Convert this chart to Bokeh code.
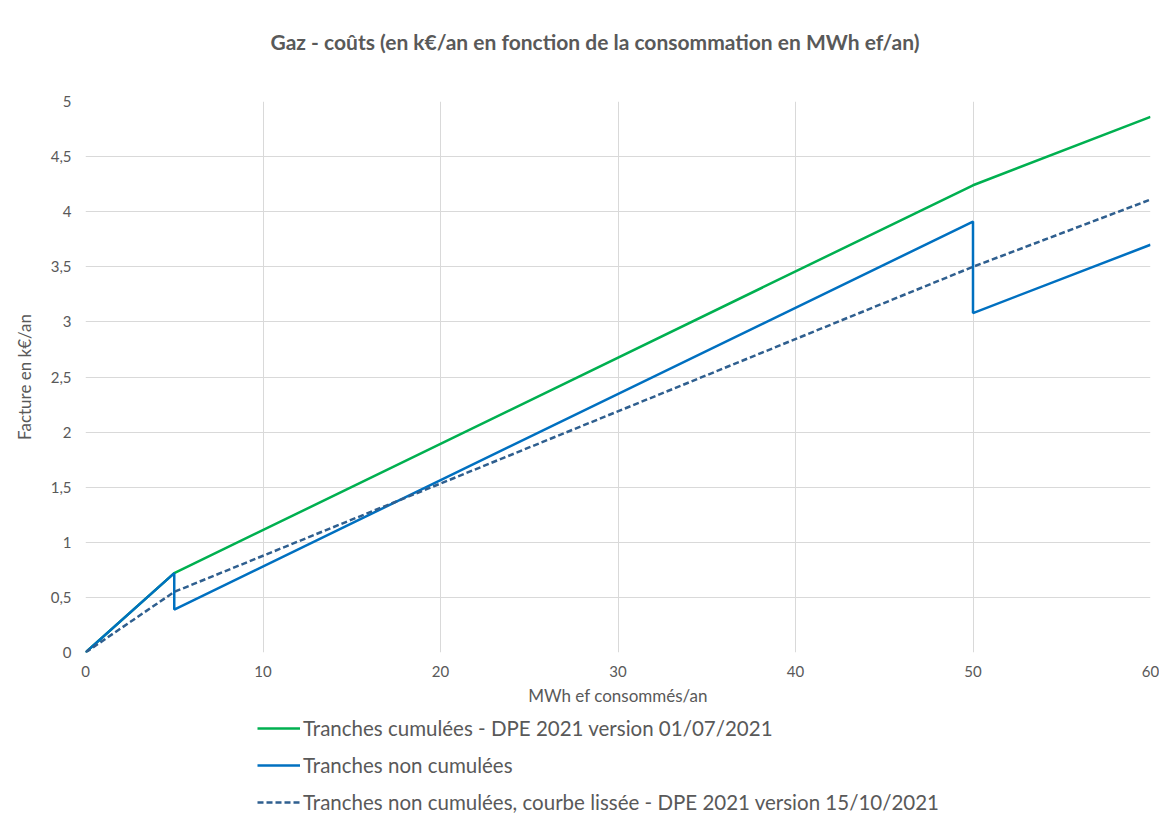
from bokeh.plotting import figure
from bokeh.models import Range1d, FixedTicker, CustomJSTickFormatter, Legend, LegendItem
from bokeh.layouts import column
from bokeh.embed import file_html
from bokeh.resources import INLINE

# Data
x_cum = [0, 5, 50, 60]
y_cum = [0, 0.72, 4.24, 4.86]
x_nc = [0, 5, 5, 50, 50, 60]
y_nc = [0, 0.72, 0.39, 3.91, 3.08, 3.70]
x_ls = [0, 5, 50, 60]
y_ls = [0, 0.55, 3.50, 4.11]
x_ticks = [0, 10, 20, 30, 40, 50, 60]
y_ticks = [0, 0.5, 1, 1.5, 2, 2.5, 3, 3.5, 4, 4.5, 5]
labels = ["Tranches cumulées - DPE 2021 version 01/07/2021",
          "Tranches non cumulées",
          "Tranches non cumulées, courbe lissée - DPE 2021 version 15/10/2021"]
title = "Gaz - coûts (en k€/an en fonction de la consommation en MWh ef/an)"

FONT = "Lato"
GREY = "#595959"
GRID = "#d9d9d9"
COLORS = ["#00b050", "#0070c0", "#2f5f8f"]
DASHES = ["solid", "solid", "6 3"]
SERIES = [(x_cum, y_cum), (x_nc, y_nc), (x_ls, y_ls)]
W = 1159

# Title strip
t = figure(width=W, height=85, output_backend="svg", toolbar_location=None,
           x_range=Range1d(-200, -100), y_range=Range1d(-200, -100),
           x_axis_location=None, y_axis_location=None, min_border=0)
t.outline_line_color = None
t.grid.visible = False
t.title.text = title
t.title.align = "left"
t.title.offset = 185
t.title.text_font = FONT
t.title.text_font_size = "21px"
t.title.text_font_style = "bold"
t.title.text_color = GREY
t.title.standoff = 52

# Main chart
p = figure(width=W, height=625, output_backend="svg", toolbar_location=None,
           x_range=Range1d(0, 60), y_range=Range1d(0, 5),
           min_border_left=85, min_border_right=9, min_border_top=16, min_border_bottom=58)
p.outline_line_color = None

p.xaxis.ticker = FixedTicker(ticks=x_ticks)
p.yaxis.ticker = FixedTicker(ticks=y_ticks)
p.yaxis.formatter = CustomJSTickFormatter(code="return tick.toString().replace('.', ',');")
for ax in (p.xaxis, p.yaxis):
    ax.axis_line_color = None
    ax.major_tick_line_color = None
    ax.minor_tick_line_color = None
    ax.major_label_text_font = FONT
    ax.major_label_text_font_size = "15px"
    ax.major_label_text_color = GREY
    ax.axis_label_text_font = FONT
    ax.axis_label_text_font_size = "17px"
    ax.axis_label_text_color = GREY
    ax.axis_label_text_font_style = "normal"
p.xaxis.axis_label = "MWh ef consommés/an"
p.yaxis.axis_label = "Facture en k€/an"
p.xaxis.major_label_standoff = 7
p.yaxis.major_label_standoff = 8
p.xaxis.axis_label_standoff = 5
p.yaxis.axis_label_standoff = 13

p.xgrid.ticker = FixedTicker(ticks=x_ticks)
p.ygrid.ticker = FixedTicker(ticks=y_ticks)
p.grid.grid_line_color = GRID
p.grid.grid_line_width = 1

for (xs, ys), c, d in zip(SERIES, COLORS, DASHES):
    p.line(xs, ys, line_color=c, line_width=2.5, line_dash=d)

# Legend strip below the chart (separate canvas so it is not clipped);
# the same series are drawn there outside the visible range, only for the legend.
q = figure(width=W, height=105, output_backend="svg", toolbar_location=None,
           x_range=Range1d(-200, -100), y_range=Range1d(-200, -100),
           x_axis_location=None, y_axis_location=None, min_border=0)
q.outline_line_color = None
q.grid.visible = False
items = []
for lab, (xs, ys), c, d in zip(labels, SERIES, COLORS, DASHES):
    r = q.line(xs, ys, line_color=c, line_width=2.5, line_dash=d)
    items.append(LegendItem(label=lab, renderers=[r]))
legend = Legend(items=items, location=(172, 1), orientation="vertical",
                padding=0, margin=0, spacing=13,
                glyph_width=43, glyph_height=24, label_height=24, label_standoff=3,
                label_text_font=FONT, label_text_font_size="20.5px", label_text_color=GREY,
                background_fill_alpha=0, border_line_color=None)
q.add_layout(legend, "center")

layout = column(t, p, q, spacing=0)
open("out.html", "w").write(file_html(layout, INLINE))
